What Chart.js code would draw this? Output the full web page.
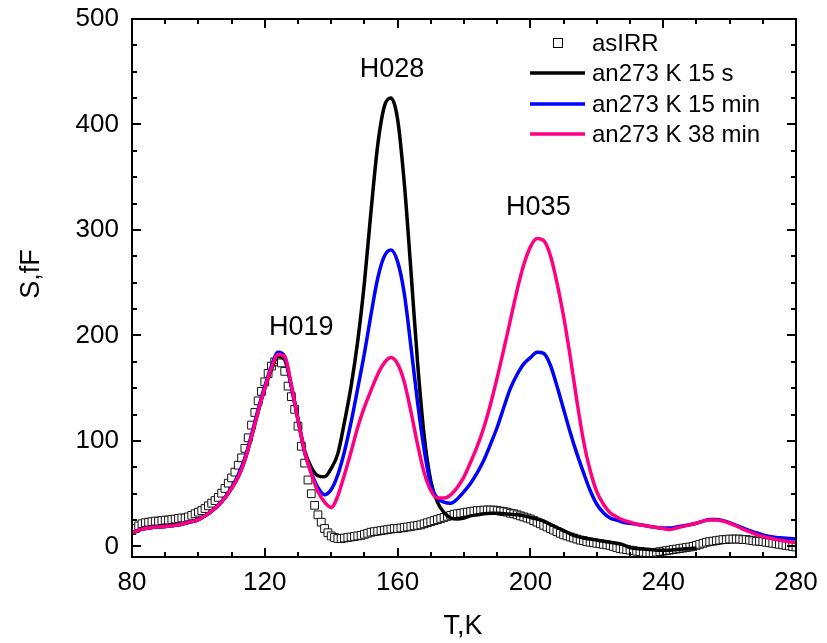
<!DOCTYPE html>
<html>
<head>
<meta charset="utf-8">
<script src="https://cdn.jsdelivr.net/npm/chart.js@4.4.1/dist/chart.umd.min.js"></script>
<style>
html,body{margin:0;padding:0;background:#fff;}
#wrap{width:827px;height:643px;position:relative;}
</style>
</head>
<body>
<div id="wrap"><canvas id="chart"></canvas></div>
<script>
// temperature grid of the annealed curves (K)
const lineT=[80,82,84,86,88,90,92,94,96,98,100,102,104,106,108,110,112,114,116,118,
120,122,124,126,128,130,132,134,136,138,140,142,144,146,148,150,152,154,156,158,
160,162,164,166,168,170,172,174,176,178,180,182,184,186,188,190,192,194,196,198,
200,202,204,206,208,210,212,214,216,218,220,222,224,226,228,230,232,234,236,238,
240,242,244,246,248,250,252,254,256,258,260,262,264,266,268,270,272,274,276,278,280];

// an273 K 15 s (stops at 250 K)
const an15s=[13,15.5,17,18,18.5,19,19.5,20.5,22,23.5,25.5,29,33.5,39,46,55,66,82,104,128,
150,168,180,177,152,121,91,75,67,66,74,88,118,152,195,250,318,380,417,425,
405,345,262,175,105,62,42,32,27,26,27,29,30,31,31.5,31.5,31,30.5,30,29,
27.5,26,24,21,18,15,12,9.5,8,7,6,5,4,3,1.5,-1,-2,-2.5,-3,-3.5,
-3.5,-3.5,-3,-2.5,-2,-1.5];

// an273 K 15 min
const an15min=[13,15.5,17,18,18.5,19,19.5,20.5,22,23.5,25.5,29,33.5,39,46.5,56,68,84,106,130,
152,171,184,180,151,120,89,70,56,49,54,68,90,118,150,183,220,254,275,281,
270,240,190,137,92,58,46,42,41,45,52,60,70,82,97,113,132,150,163,173,
179,184,183,172,152,130,108,88,70,53,40,32,27,25,23,22,21,20,19,18,
17.5,17.5,18.5,19.5,20.5,22,24,25.5,25.5,24.5,22.5,20,17.5,15,13,11,9.5,8.5,8,7.5,7];

// an273 K 38 min
const an38min=[13,15.5,17,18,18.5,19,19.5,20.5,22,23.5,25.5,29,33.5,39,46,55,66,82,104,128,
150,169,182,180,153,120,90,69,52,42,37,48,68,90,113,132,148,163,174,179,
173,156,128,97,70,53,46,46,49,56,66,80,95,113,135,160,187,215,243,267,
284,292,290,276,250,218,180,138,100,72,52,40,32,28,25,23,21,20,19,18,
17,16,17.5,19,20.5,22,24,25,25,24,22,19.5,16.5,14,11.5,9.5,8,6.5,5.5,4.5,4];

// as-irradiated sample, 1 K steps
const irrT=[80,81,82,83,84,85,86,87,88,89,90,91,92,93,94,95,96,97,98,99,
100,101,102,103,104,105,106,107,108,109,110,111,112,113,114,115,116,117,118,119,
120,121,122,123,124,125,126,127,128,129,130,131,132,133,134,135,136,137,138,139,
140,141,142,143,144,145,146,147,148,149,150,151,152,153,154,155,156,157,158,159,
160,161,162,163,164,165,166,167,168,169,170,171,172,173,174,175,176,177,178,179,
180,181,182,183,184,185,186,187,188,189,190,191,192,193,194,195,196,197,198,199,
200,201,202,203,204,205,206,207,208,209,210,211,212,213,214,215,216,217,218,219,
220,221,222,223,224,225,226,227,228,229,230,231,232,233,234,235,236,237,238,239,
240,241,242,243,244,245,246,247,248,249,250,251,252,253,254,255,256,257,258,259,
260,261,262,263,264,265,266,267,268,269,270,271,272,273,274,275,276,277,278,279,280];
const asIRR=[15,17,19.5,21.5,22.5,23,23.5,24,24,24.5,
25,25,25.5,26,26.5,27,27,28,29.5,31,
32.5,34,36,38.5,41,43.5,46.5,50.5,55,60,
65,70.5,77,84,93,103,115,127,138,147,
156,164,171,175,177,174,166,152,142,130,
114,95,79,63,50,39,30,23,17,13,
10,8.5,7.5,7.5,8,8.5,9,9.5,10,10.5,
11.5,12.5,13.5,14,14.5,15,15.5,16,16.5,17,
17,17.5,18,18.5,19,19.5,20,20.5,21.5,22.5,
23.5,24.5,25.5,26.5,27.5,28.5,29.5,30.5,31,31.5,
32,32.5,33,33.5,34,34,34.5,34.5,34.5,34.5,
34,33.5,33,32.5,31.5,31,30,29,28,27,
26,24.5,23,21.5,20,18.5,17,15.5,14,12.5,
11,10,9,8,7,6,5.5,4.5,4,3.5,
3,2.5,2,1.5,1,0,-1,-2,-2.5,-3,
-3.5,-4,-4.5,-5,-5.5,-6,-6,-6,-5.5,-5,
-4.5,-4,-3.5,-3,-2.5,-2,-1.5,-1,-0.5,0,
1,2,3,4,4.5,5,5.5,6,6.5,6.5,
7,7,7,7,6.5,6.5,6,5.5,5,5,
4.5,4,3.5,3,2.5,2,1.5,1,0.5,0,-0.5];

const seriesNames=["asIRR","an273 K 15 s","an273 K 15 min","an273 K 38 min"];
const seriesColors=["#000000","#000000","#0000ff","#ff0080"];

const xMajor=[80,120,160,200,240,280];
const xMinor=[90,100,110,130,140,150,170,180,190,210,220,230,250,260,270];
const yMajor=[0,100,200,300,400,500];
const yMinor=[25,50,75,125,150,175,225,250,275,325,350,375,425,450,475];

const peakNames=["H019","H028","H035"];
const peakT=[131,158.3,202.4];
const peakS=[200,445,314];

const FONT="'Liberation Sans', Arial, sans-serif";

function pts(xs,ys){
let out=[];
ys.forEach((v,i)=>out.push({x:xs[i],y:v}));
return out;
}

const decor={
id:"decor",
afterDraw(c){
const ctx=c.ctx, a=c.chartArea, xs=c.scales.x, ys=c.scales.y;
ctx.save();
ctx.strokeStyle="#000";
ctx.lineWidth=2;
ctx.strokeRect(a.left,a.top,a.right-a.left,a.bottom-a.top);

function seg(x1,y1,x2,y2){ctx.beginPath();ctx.moveTo(x1,y1);ctx.lineTo(x2,y2);ctx.stroke();}
function xt(v,len){let p=Math.round(xs.getPixelForValue(v));seg(p,a.bottom,p,a.bottom-len);seg(p,a.top,p,a.top+len);}
function yt(v,len){let p=Math.round(ys.getPixelForValue(v));seg(a.left,p,a.left+len,p);seg(a.right,p,a.right-len,p);}
xMajor.forEach(v=>xt(v,9));
xMinor.forEach(v=>xt(v,5));
yMajor.forEach(v=>yt(v,9));
yMinor.forEach(v=>yt(v,5));

// axis titles
ctx.fillStyle="#000";
ctx.font="27px "+FONT;
ctx.textAlign="center";
ctx.textBaseline="middle";
ctx.fillText("T,K",463,627);
ctx.save();
ctx.translate(32,274);
ctx.rotate(-Math.PI/2);
ctx.fillText("S,fF",0,0);
ctx.restore();

// peak labels
ctx.textBaseline="alphabetic";
peakNames.forEach((n,i)=>{
ctx.fillText(n,xs.getPixelForValue(peakT[i]),ys.getPixelForValue(peakS[i]));
});

// legend
ctx.font="24px "+FONT;
ctx.textAlign="left";
ctx.textBaseline="middle";
const rowY=[43,73,104,134];
seriesNames.forEach((n,i)=>{
let y=rowY[i];
if(i===0){
ctx.lineWidth=1;
ctx.fillStyle="#fff";
ctx.fillRect(553.5,y-4.5,9,9);
ctx.strokeStyle="#000";
ctx.strokeRect(553.5,y-4.5,9,9);
}else{
ctx.lineWidth=3.5;
ctx.strokeStyle=seriesColors[i];
seg(530,y,585,y);
}
ctx.fillStyle="#000";
ctx.fillText(n,592,y+1);
});
ctx.restore();
}
};

new Chart(document.getElementById("chart"),{
type:"scatter",
data:{
datasets:[
{label:seriesNames[0],data:pts(irrT,asIRR),showLine:false,pointStyle:"rect",pointRadius:5.5,
pointBorderWidth:1,borderColor:"#111",backgroundColor:"#fff",order:4},
{label:seriesNames[1],data:pts(lineT,an15s),showLine:true,pointRadius:0,borderWidth:3.5,
borderColor:seriesColors[1],cubicInterpolationMode:"monotone",order:3},
{label:seriesNames[2],data:pts(lineT,an15min),showLine:true,pointRadius:0,borderWidth:3.5,
borderColor:seriesColors[2],cubicInterpolationMode:"monotone",order:2},
{label:seriesNames[3],data:pts(lineT,an38min),showLine:true,pointRadius:0,borderWidth:3.5,
borderColor:seriesColors[3],cubicInterpolationMode:"monotone",order:1}
]
},
options:{
responsive:true,
maintainAspectRatio:false,
animation:false,
events:[],
layout:{padding:{top:19,right:31,left:0,bottom:0}},
plugins:{legend:{display:false},tooltip:{enabled:false}},
scales:{
x:{
type:"linear",min:80,max:280,
grid:{display:false,drawTicks:false},
border:{display:false},
afterBuildTicks:s=>{s.ticks=xMajor.map(v=>({value:v}));},
afterFit:s=>{s.height=86;s.paddingLeft=0;s.paddingRight=0;},
ticks:{color:"#000",font:{family:FONT,size:26},padding:10,autoSkip:false,maxRotation:0}
},
y:{
type:"linear",min:-10,max:500,
grid:{display:false,drawTicks:false},
border:{display:false},
afterBuildTicks:s=>{s.ticks=yMajor.map(v=>({value:v}));},
afterFit:s=>{s.width=132;s.paddingTop=0;s.paddingBottom=0;},
ticks:{color:"#000",font:{family:FONT,size:26},padding:13,autoSkip:false}
}
}
},
plugins:[decor]
});
</script>
</body>
</html>
